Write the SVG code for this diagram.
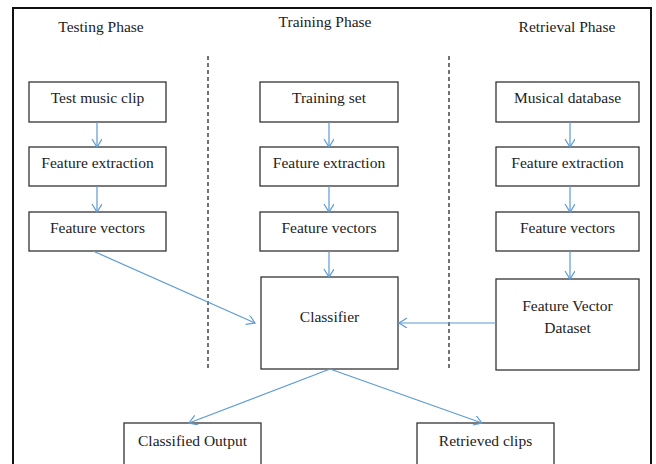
<svg xmlns="http://www.w3.org/2000/svg" width="656" height="464" viewBox="0 0 656 464">
<style>
.box{fill:#fff;stroke:#333;stroke-width:1.3}
text{font-family:'Liberation Serif','Times New Roman',Times,serif;font-size:15.5px;fill:#222;text-anchor:middle}
.c{fill:none;stroke:#5b9bd5;stroke-width:1.2}
.d{stroke:#444;stroke-width:1.5;stroke-dasharray:4,3}
</style>
<defs>
<marker id="a" markerUnits="userSpaceOnUse" markerWidth="12" markerHeight="12" refX="9" refY="5" orient="auto">
<path d="M1,0 L9,5 L1,10" fill="none" stroke="#5b9bd5" stroke-width="1.2"/>
</marker>
</defs>
<rect width="656" height="464" fill="#fff"/>
<path d="M13,470 V8 H651 V470" fill="none" stroke="#111" stroke-width="2"/>
<g id="headers">
<text x="101" y="32">Testing Phase</text>
<text x="325" y="27">Training Phase</text>
<text x="567" y="32">Retrieval Phase</text>
</g>
<g id="dividers">
<line class="d" x1="208" y1="56" x2="208" y2="370"/>
<line class="d" x1="449" y1="56" x2="449" y2="370"/>
</g>
<g id="test-music-clip"><rect class="box" x="29" y="82" width="137" height="40"/><text x="97.5" y="102.5">Test music clip</text></g>
<g id="test-feature-extraction"><rect class="box" x="29" y="147" width="137" height="39"/><text x="97.5" y="167.5">Feature extraction</text></g>
<g id="test-feature-vectors"><rect class="box" x="29" y="212" width="137" height="39"/><text x="97.5" y="232.5">Feature vectors</text></g>
<g id="training-set"><rect class="box" x="260" y="82" width="138" height="40"/><text x="329" y="102.5">Training set</text></g>
<g id="train-feature-extraction"><rect class="box" x="260" y="147" width="138" height="39"/><text x="329" y="167.5">Feature extraction</text></g>
<g id="train-feature-vectors"><rect class="box" x="260" y="212" width="138" height="39"/><text x="329" y="232.5">Feature vectors</text></g>
<g id="musical-database"><rect class="box" x="496" y="82" width="143" height="40"/><text x="567.5" y="102.5">Musical database</text></g>
<g id="ret-feature-extraction"><rect class="box" x="496" y="147" width="143" height="39"/><text x="567.5" y="167.5">Feature extraction</text></g>
<g id="ret-feature-vectors"><rect class="box" x="496" y="212" width="143" height="39"/><text x="567.5" y="232.5">Feature vectors</text></g>
<g id="classifier"><rect class="box" x="261" y="277" width="137" height="92"/><text x="329.5" y="321.5">Classifier</text></g>
<g id="feature-vector-dataset"><rect class="box" x="496" y="279" width="143" height="91"/><text x="567.5" y="310.5">Feature Vector</text><text x="567.5" y="332.5">Dataset</text></g>
<g id="classified-output"><rect class="box" x="124" y="423" width="137" height="45"/><text x="192.5" y="445.5">Classified Output</text></g>
<g id="retrieved-clips"><rect class="box" x="417" y="423" width="137" height="45"/><text x="485.5" y="445.5">Retrieved clips</text></g>
<g id="connectors">
<line class="c" x1="97" y1="122" x2="97" y2="147" marker-end="url(#a)"/>
<line class="c" x1="97" y1="186" x2="97" y2="212" marker-end="url(#a)"/>
<line class="c" x1="329" y1="122" x2="329" y2="147" marker-end="url(#a)"/>
<line class="c" x1="329" y1="186" x2="329" y2="212" marker-end="url(#a)"/>
<line class="c" x1="329" y1="251" x2="329" y2="277" marker-end="url(#a)"/>
<line class="c" x1="570" y1="122" x2="570" y2="147" marker-end="url(#a)"/>
<line class="c" x1="570" y1="186" x2="570" y2="212" marker-end="url(#a)"/>
<line class="c" x1="570" y1="251" x2="570" y2="279" marker-end="url(#a)"/>
<line class="c" x1="93" y1="251" x2="255" y2="323" marker-end="url(#a)"/>
<line class="c" x1="496" y1="323" x2="399" y2="323" marker-end="url(#a)"/>
<line class="c" x1="330" y1="369" x2="189" y2="423" marker-end="url(#a)"/>
<line class="c" x1="330" y1="369" x2="482" y2="423" marker-end="url(#a)"/>
</g>
</svg>
